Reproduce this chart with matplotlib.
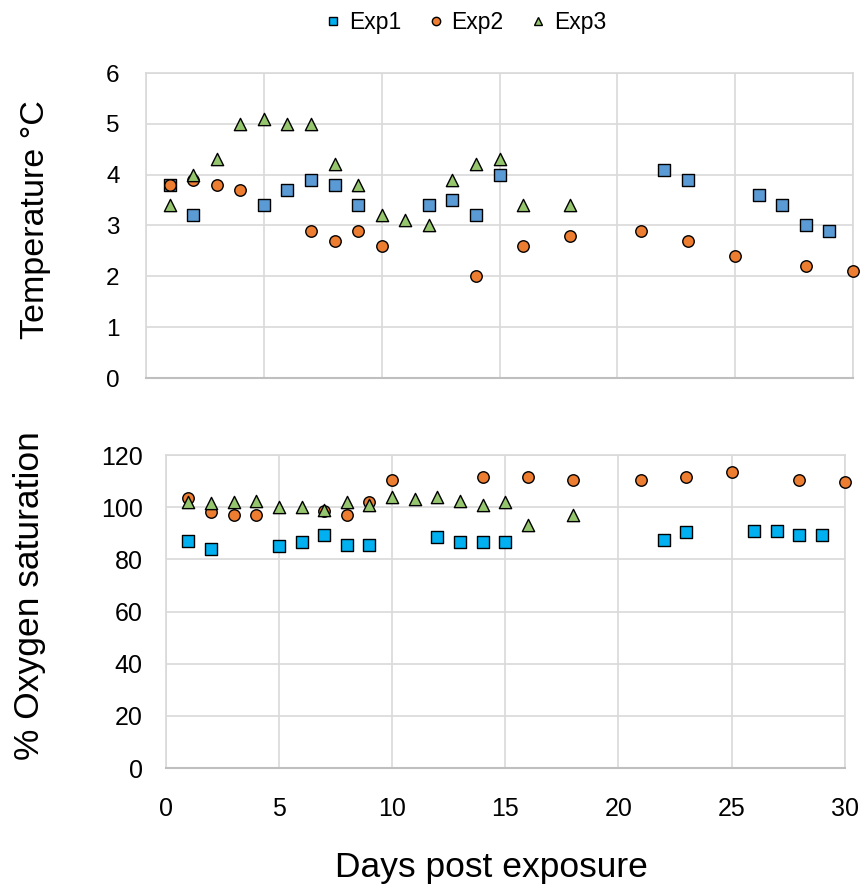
import matplotlib
matplotlib.use('Agg')
import matplotlib.pyplot as plt
from matplotlib.lines import Line2D

plt.rcParams['font.family'] = ['Liberation Sans', 'DejaVu Sans']

# temperature (top panel)
t_days1 = [1, 2, 5, 6, 7, 8, 9, 12, 13, 14, 15, 22, 23, 26, 27, 28, 29]
t_exp1 = [3.8, 3.2, 3.4, 3.7, 3.9, 3.8, 3.4, 3.4, 3.5, 3.2, 4.0, 4.1, 3.9, 3.6, 3.4, 3.0, 2.9]
t_days2 = [1, 2, 3, 4, 7, 8, 9, 10, 14, 16, 18, 21, 23, 25, 28, 30]
t_exp2 = [3.8, 3.9, 3.8, 3.7, 2.9, 2.7, 2.9, 2.6, 2.0, 2.6, 2.8, 2.9, 2.7, 2.4, 2.2, 2.1]
t_days3 = [1, 2, 3, 4, 5, 6, 7, 8, 9, 10, 11, 12, 13, 14, 15, 16, 18]
t_exp3 = [3.4, 4.0, 4.3, 5.0, 5.1, 5.0, 5.0, 4.2, 3.8, 3.2, 3.1, 3.0, 3.9, 4.2, 4.3, 3.4, 3.4]

# oxygen saturation (bottom panel)
o_days1 = [1, 2, 5, 6, 7, 8, 9, 12, 13, 14, 15, 22, 23, 26, 27, 28, 29]
o_exp1 = [87, 84, 85, 86.5, 89.5, 85.5, 85.5, 88.5, 86.5, 86.5, 86.5, 87.5, 90.5, 91, 91, 89.5, 89.5]
o_days2 = [1, 2, 3, 4, 7, 8, 9, 10, 14, 16, 18, 21, 23, 25, 28, 30]
o_exp2 = [103.5, 98, 97, 97, 98.5, 97, 102, 110.5, 111.5, 111.5, 110.5, 110.5, 111.5, 113.5, 110.5, 109.5]
o_days3 = [1, 2, 3, 4, 5, 6, 7, 8, 9, 10, 11, 12, 13, 14, 15, 16, 18]
o_exp3 = [102, 101.5, 102, 102.5, 100, 100, 99, 102, 101, 104, 103, 104, 102.5, 101, 102, 93, 97]

orange = '#ED7D31'
green = '#95C66E'
blue_top = '#5B9BD5'
cyan = '#00B0F0'

fig = plt.figure(figsize=(8.65, 8.88), dpi=100)
ax1 = fig.add_axes([146 / 865, 1 - 378 / 888, 707 / 865, 305 / 888])
ax2 = fig.add_axes([165.7 / 865, 1 - 768 / 888, 679 / 865, 313 / 888])

mk = dict(edgecolors='black', linewidths=1.0, zorder=3, clip_on=False)

ax1.scatter(t_days1, t_exp1, marker='s', s=68, color=blue_top, **mk)
ax1.scatter(t_days2, t_exp2, marker='o', s=68, color=orange, **mk)
ax1.scatter(t_days3, t_exp3, marker='^', s=78, color=green, **mk)

ax2.scatter(o_days1, o_exp1, marker='s', s=68, color=cyan, **mk)
ax2.scatter(o_days2, o_exp2, marker='o', s=68, color=orange, **mk)
ax2.scatter(o_days3, o_exp3, marker='^', s=78, color=green, **mk)

for ax in (ax1, ax2):
    ax.set_xlim(0, 30)
    ax.set_xticks(range(0, 31, 5))
    ax.grid(True, color='#D9D9D9', linewidth=1.2)
    ax.set_axisbelow(True)
    for side in ('left', 'top', 'right'):
        ax.spines[side].set_color('#D9D9D9')
        ax.spines[side].set_linewidth(1.2)
    ax.spines['bottom'].set_color('#BFBFBF')
    ax.spines['bottom'].set_linewidth(1.5)
    ax.tick_params(length=0)

ax1.set_ylim(0, 6)
ax1.set_yticks(range(0, 7))
ax1.tick_params(axis='x', labelbottom=False)
ax1.tick_params(axis='y', labelsize=17.5, pad=19)
ax1.set_ylabel('Temperature °C', fontsize=24.5, va='center')
ax1.yaxis.set_label_coords(-0.157, 0.521)

ax2.set_ylim(0, 120)
ax2.set_yticks(range(0, 121, 20))
ax2.tick_params(axis='y', labelsize=18, pad=16.5)
ax2.tick_params(axis='x', labelsize=18, pad=21)
ax2.set_ylabel('% Oxygen saturation', fontsize=25.5, va='center')
ax2.yaxis.set_label_coords(-0.200, 0.55)
ax2.set_xlabel('Days post exposure', fontsize=25.5, va='center')
ax2.xaxis.set_label_coords(0.479, -0.319)

handles = [
    Line2D([], [], linestyle='none', marker='s', markersize=6, markerfacecolor=cyan, markeredgecolor='black'),
    Line2D([], [], linestyle='none', marker='o', markersize=6, markerfacecolor=orange, markeredgecolor='black'),
    Line2D([], [], linestyle='none', marker='^', markersize=6, markerfacecolor=green, markeredgecolor='black'),
]
fig.legend(handles, ['Exp1', 'Exp2', 'Exp3'], loc='center', bbox_to_anchor=(465 / 865, 1 - 23 / 888),
           ncol=3, frameon=False, fontsize=16.5, handletextpad=0.3, columnspacing=1.1, handlelength=0.8)

fig.savefig('out.png', dpi=100)
